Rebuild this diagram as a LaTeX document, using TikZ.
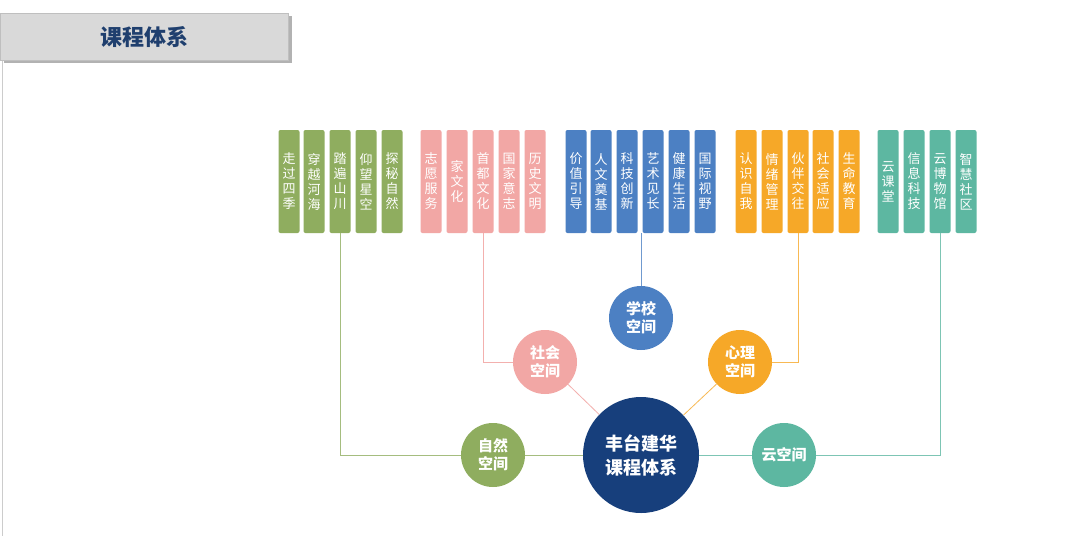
\documentclass[tikz,border=0pt]{standalone}
\usepackage{fontspec}
\newfontfamily\cjk{Noto Sans CJK SC}
\definecolor{cg}{HTML}{8FAD5F}
\definecolor{cp}{HTML}{F2A7A5}
\definecolor{cb}{HTML}{4C80C3}
\definecolor{co}{HTML}{F6A828}
\definecolor{ct}{HTML}{5DB7A1}
\definecolor{cd}{HTML}{173F7C}
\definecolor{tb}{HTML}{1F3F6E}
\begin{document}
\begin{tikzpicture}[x=1pt,y=-1pt,
 box/.style={rounded corners=2pt,minimum width=21pt,minimum height=103pt,inner sep=0pt,text=white,font=\cjk\fontsize{13}{15}\selectfont,align=center},
 circ/.style={circle,minimum size=64pt,inner sep=0pt,text=white,font=\cjk\bfseries\fontsize{15}{18}\selectfont,align=center},
 ln/.style={line width=0.8pt}]
\useasboundingbox (0,0) rectangle (1080,536);
\fill[white] (0,0) rectangle (1080,536);
\draw[gray!40] (2,60) -- (2,536);
\fill[black!30] (4,16) rectangle (292,63);
\node[fill=black!15,draw=black!25,minimum width=288pt,minimum height=47pt,inner sep=0pt,anchor=north west,text=tb,font=\cjk\bfseries\fontsize{22}{24}\selectfont] (title) at (0,13) {课程体系};
% boxes
\foreach \x/\t [count=\i] in {289/走\\过\\四\\季,314/穿\\越\\河\\海,340/踏\\遍\\山\\川,366/仰\\望\\星\\空,392/探\\秘\\自\\然}
  \node[box,fill=cg] (g\i) at (\x,181.5) {\t};
\foreach \x/\t [count=\i] in {431/志\\愿\\服\\务,457/家\\文\\化,483/首\\都\\文\\化,509/国\\家\\意\\志,535/历\\史\\文\\明}
  \node[box,fill=cp] (p\i) at (\x,181.5) {\t};
\foreach \x/\t [count=\i] in {576/价\\值\\引\\导,601/人\\文\\奠\\基,627/科\\技\\创\\新,653/艺\\术\\见\\长,679/健\\康\\生\\活,705/国\\际\\视\\野}
  \node[box,fill=cb] (b\i) at (\x,181.5) {\t};
\foreach \x/\t [count=\i] in {746/认\\识\\自\\我,772/情\\绪\\管\\理,798/伙\\伴\\交\\往,823/社\\会\\适\\应,849/生\\命\\教\\育}
  \node[box,fill=co] (o\i) at (\x,181.5) {\t};
\foreach \x/\t [count=\i] in {888/云\\课\\堂,914/信\\息\\科\\技,940/云\\博\\物\\馆,966/智\\慧\\社\\区}
  \node[box,fill=ct] (t\i) at (\x,181.5) {\t};
% circles
\node[circ,fill=cd,minimum size=116pt,font=\cjk\bfseries\fontsize{18}{24}\selectfont] (c) at (641,455) {丰台建华\\课程体系};
\node[circ,fill=cb] (s1) at (641,318) {学校\\空间};
\node[circ,fill=cp] (s2) at (545,362) {社会\\空间};
\node[circ,fill=co] (s3) at (740,362) {心理\\空间};
\node[circ,fill=cg] (s4) at (493,455) {自然\\空间};
\node[circ,fill=ct] (s5) at (784,455) {云空间};
% connectors
\draw[ln,cg!80] (g3.south) |- (s4.west);
\draw[ln,cp!90] (p3.south) |- (s2.west);
\draw[ln,cb!80] (b3.south -| s1.north) -- (s1.north);
\draw[ln,co!80] (o3.south) |- (s3.east);
\draw[ln,ct!80] (t3.south) |- (s5.east);
\draw[ln,cg!80] (s4) -- (c);
\draw[ln,cp!90] (s2) -- (c);
\draw[ln,co!80] (s3) -- (c);
\draw[ln,ct!80] (s5) -- (c);
\end{tikzpicture}
\end{document}
